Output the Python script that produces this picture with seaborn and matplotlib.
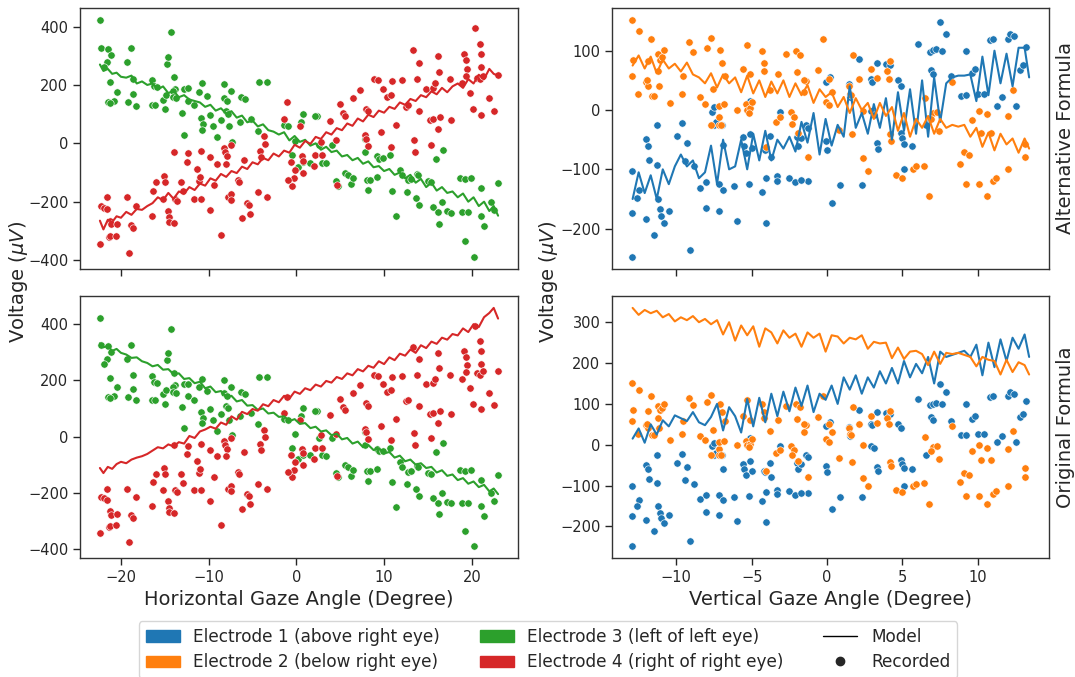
import numpy as np
import pandas as pd
import matplotlib
matplotlib.use("Agg")
import matplotlib.pyplot as plt
from matplotlib.patches import Patch
from matplotlib.lines import Line2D
import seaborn as sns

# ---------------- recorded data ----------------
# Electrode 3 (left of left eye) vs horizontal gaze angle
h_angle_e3 = [-22.35, -22.3, -21.5, -21.1, -21.6, -21.9, -21.2, -20.45, -20.8, -21.5, -21.2, -19.3, -18.9, -18.6,
              -18.6, -19.2, -18.3, -16.5, -16.2, -15.9, -16.5, -16.1, -15.0, -15.2, -14.9, -14.8, -14.6, -14.3,
              -13.9, -13.8, -14.1, -14.1, -13.7, -13.0, -12.8, -12.8, -12.4, -12.3, -11.7, -11.1, -10.8, -10.9,
              -10.7, -10.8, -10.15, -9.85, -9.5, -9.1, -8.6, -8.3, -7.9, -8.2, -7.5, -8.0, -7.8, -7.3, -7.7, -6.4,
              -6.3, -5.9, -5.2, -4.3, -3.4, -4.4,
              -1.4, -1.0, 0.76, 0.5, 2.35, 2.1, -0.1, 0.2, 0.8, -0.5, 1.5, 2.9, 3.4, 2.6, 4.1, 4.5, 4.8, 5.6, 5.9,
              6.2, 6.5, 7.8, 7.8, 8.1, 8.4, 8.2, 9.2, 9.4, 9.2, 9.9, 10.7, 10.9, 11.4, 11.8, 12.1, 12.6, 12.7, 13.1,
              13.6, 13.7, 13.9, 14.0, 15.0, 15.4, 15.6, 15.9, 16.2, 16.3, 16.7, 16.6, 17.2, 17.6, 18.6, 19.2, 19.9,
              18.9, 19.6, 19.2, 20.3, 21.0, 21.1, 21.4, 22.2, 22.5, 23.0]
volt_e3 = [423, 326, 322, 302, 277, 260, 209, 176, 146, 140, 138, 277, 326, 220,
           169, 140, 129, 216, 195, 192, 131, 131, 117, 150, 165, 271, 296, 382,
           226, 185, 178, 160, 156, 104, 29, 186, 188, 146, 131, 176, 206, 86,
           66, 47, 161, 97, 58, 20, 81, 155, 145, 203, 178, 110, 100, 5, 60, 72,
           158, 152, 83, 211, 211, 43,
           62, 60, 100, 72, 92, 92, 9, -81, -64, -40, -67, -66, -68, -6, -6, -128, -145, -100, -108,
           -139, -120, 15, -30, -124, -124, -159, -44, -53, -115, -50, -40, -162, -250, -92, -110, -168, -126, -122,
           -187, -105, -110, -213, -128, -133, -219, -54, -235, -276, -22, -202, -232, -238, -118, -122, -118,
           -235, -235, -336, -390, -154, -248, -284, -200, -230, -136]

# Electrode 4 (right of right eye) vs horizontal gaze angle
h_angle_e4 = [-22.35, -22.3, -21.9, -21.6, -21.6, -21.3, -21.1, -21.4, -21.2, -20.6, -20.4, -19.3, -19.1, -18.8,
              -18.6, -18.3, -16.5, -16.4, -16.0, -15.1, -15.0, -15.2, -14.6, -14.5, -14.5, -13.9, -13.9, -13.8,
              -13.6, -13.2, -12.9, -12.5, -12.4, -11.7, -11.3, -11.1, -11.0, -10.9, -10.9, -9.85, -9.8, -9.4, -9.1,
              -8.6, -8.3, -8.1, -7.9, -8.0, -7.8, -7.5, -7.4, -7.5, -6.6, -6.5, -6.2, -6.0, -5.6, -5.4, -5.3, -4.4,
              -4.1, -4.0, -3.7, -3.6, -3.4, -1.1, -1.4, -0.6, -0.5, -0.2, -0.3, -0.9, 0.6, 0.7, 0.45, 0.7, 2.0, 2.1,
              2.8, 2.9, 3.8, 4.5, 4.6, 5.0, 5.3, 5.6, 6.4, 7.3, 7.9, 8.2, 7.8, 7.9, 8.2, 8.8, 9.3, 9.7, 9.9, 10.3,
              10.8, 10.8, 10.9, 11.4, 12.0, 12.5, 12.7, 13.3, 13.4, 13.5, 13.7, 14.0, 14.0, 14.8, 15.3, 15.2, 15.6,
              15.6, 15.8, 16.1, 16.3, 16.4, 16.2, 17.5, 17.6, 18.9, 19.1, 19.3, 19.5, 19.3, 19.8, 20.1, 20.4, 20.9,
              21.0, 21.1, 21.0, 20.6, 20.9, 21.3, 22.0, 22.5, 23.0]
volt_e4 = [-344, -215, -220, -225, -185, -265, -278, -321, -318, -316, -276, -185, -375, -280,
           -290, -215, -248, -163, -134, -111, -134, -190, -231, -254, -270, -272, -29, -190,
           -196, -134, -165, -63, -33, -190, -88, -128, -115, -190, -25, -230, -48, -143, -71,
           -314, -15, -30, -45, -70, -185, -175, -195, -6, -125, -134, -257, -56, -204, -212, -241, -168,
           -25, -48, 24, -3, -185, 140, 83, -65, -145, -90, -120, -125, -43, -60, 60, -100, -79, -40,
           6, -40, 77, 10, -142, 134, 105, 95, 156, 183, 118, 110, 27, 15, -8, 219, 217, 38, 186, 160,
           165, -14, 212, 63, 217, 125, 130, 320, 11, -30, 220, 275, 110, 186, -6, 80, 85,
           190, 205, 298, 245, 90, 50, 220, 80, 205, 305, 285, 255, 230, 174, 117, 395, 340,
           305, 260, 97, 225, 220, 232, 154, 112, 234]

# Electrode 1 (above right eye) vs vertical gaze angle
v_angle_e1 = [-12.94, -12.94, -12.94, -12.5, -12.6, -12.0, -12.0, -11.9, -11.8, -11.5, -11.3, -11.3, -11.2, -11.1,
              -11.0, -10.8, -10.5, -9.93, -9.6, -9.3, -9.1, -9.4, -8.8, -8.4, -8.0, -8.0, -7.63, -7.5, -7.5, -7.35,
              -7.2, -7.2, -6.9, -7.0, -6.9, -6.2, -6.0, -5.6, -5.5, -5.4, -5.2, -5.1, -5.0, -5.1, -4.3, -4.2, -4.1,
              -4.06, -4.05, -3.8, -3.7, -3.35, -3.3, -3.1, -2.5, -2.1, -2.0, -1.95, -1.4, -1.28, -1.3, -1.7, -1.7,
              -0.1, 0.2, -0.1, 0.0, 0.33, 0.86, 1.45, 1.5, 2.1, 2.3, 2.9, 3.0, 2.9, 3.1, 3.3, 3.4, 3.33, 3.9, 4.2,
              4.7, 4.9, 4.9, 5.0, 5.1, 5.6, 5.1, 6.0, 6.55, 6.8, 7.0, 7.2, 6.9, 7.0, 7.5, 7.9, 7.6, 8.2, 8.9, 9.2,
              9.2, 9.6, 9.8, 10.0, 10.4, 10.8, 11.0, 11.3, 11.6, 12.0, 12.1, 12.4, 12.5, 12.8, 13.0, 13.2]
volt_e1 = [-248, -102, -174, -134, -149, -184, -49, -60, -85, -211, -26, -93, -150, -167,
           -179, -191, -171, -44, -22, -55, -236, -86, -95, -132, -165, -122, -4, 5, -25, -20,
           -171, -124, -135, -26, -59, -128, -187, -46, -60, -73, -125, -40, -64, 16, -138, -65, -67,
           -190, -115, -44, -80, -111, -120, -4, -114, -122, -45, -60, -25, -119, -30, -48, -118,
           47, 55, -53, -67, -157, -127, 44, 22, 86, -127, 52, 48, -2, -8, -55, -65, 79, 77, 76,
           50, 40, -38, -48, -57, -60, -100, 112, -26, 98, 101, 103, 68, 60, 148, 128, 100, 58, 23, 25,
           100, 62, 70, 27, 27, 118, 120, 6, 22, 120, 128, 125, 7, 68, 76, 106]

# Electrode 2 (below right eye) vs vertical gaze angle
v_angle_e2 = [-12.94, -12.95, -12.9, -12.5, -12.57, -12.0, -11.9, -11.9, -11.95, -11.7, -11.6, -11.5, -11.2, -11.1,
              -10.95, -11.2, -11.15, -10.8, -10.45, -9.6, -9.55, -9.15, -8.9, -8.45, -8.1, -7.96, -7.7, -7.7, -7.6,
              -7.2, -7.2, -7.15, -7.05, -7.1, -7.0, -6.8, -6.85, -6.0, -5.6, -5.4, -5.3, -5.1, -5.33, -5.2, -5.1,
              -5.0, -4.3, -4.2, -4.2, -4.06, -3.8, -3.25, -3.36, -3.1, -2.7, -2.4, -2.2, -2.3, -2.05, -1.8, -2.0,
              -1.95, -1.4, -1.3, -1.5, -1.55, -0.6, -0.24, -0.1, 0.1, 0.1, 0.33, 0.81, 1.45, 1.5, 1.6, 1.64, 1.73,
              2.1, 2.35, 2.4, 2.74, 2.9, 3.3, 4.0, 4.1, 4.2, 4.2, 4.25, 4.6, 5.0, 5.7, 5.9, 6.4, 6.5, 6.73, 7.0,
              7.3, 6.9, 7.4, 8.3, 8.8, 9.1, 9.4, 9.18, 9.6, 10.1, 10.1, 10.2, 10.6, 10.6, 10.9, 11.0, 11.2, 12.0,
              12.0, 12.3, 13.1, 13.15]
volt_e2 = [152, 57, 85, 133, 27, 48, 40, 82, 50, 120, 24, 24, 95, 85,
           90, 65, 40, 101, 12, 27, 57, 115, 98, 22, 11, 105, 121, -26, 35,
           -11, 6, -26, -26, 101, 79, 57, 10, 0, 70, 10, 0, 3, 110, -5, 60,
           14, 99, 79, 66, -63, 33, 61, -20, -12, 94, -4, -12, -24, 100, 92, 64,
           -39, 49, -80, 50, 31, 68, 119, 14, 8, 52, 31, -33, 40, 27, 25, -41, 93,
           52, -81, -1, -102, 70, 54, 66, 52, 82, -41, -52, -110, -115, -100, -95, -94, 20, -145, -5,
           -3, -15, -35, 47, -91, -70, -75, -125, -16, -1, -125, -38, -145, -7, -38, -120, -114, -10,
           -100, 34, -80, -57]

# ---------------- model curves ----------------
h_model = [-22.4, -22.0, -21.5, -21.0, -20.5, -20.0, -19.4, -18.8, -18.2, -17.6, -17.0, -16.4, -15.8, -15.2,
           -14.6, -14.0, -13.4, -12.8, -12.2, -11.6, -11.0, -10.4, -9.8, -9.2, -8.6, -8.0, -7.4, -6.8, -6.2,
           -5.6, -5.0, -4.4, -3.8, -3.2, -2.6, -2.0, -1.4, -0.8, -0.2, 0.4, 1.0, 1.6, 2.2, 2.8, 3.4, 4.0, 4.6,
           5.2, 5.8, 6.4, 7.0, 7.6, 8.2, 8.8, 9.4, 10.0, 10.6, 11.2, 11.8, 12.4, 13.0, 13.6, 14.2, 14.8, 15.4,
           16.0, 16.6, 17.2, 17.8, 18.4, 19.0, 19.6, 20.2, 20.8, 21.4, 22.0, 22.5, 23.0]
e3_alt = [270, 248, 255, 238, 242, 228, 225, 232, 205, 212, 200, 205, 185, 195,
          172, 180, 158, 165, 150, 145, 140, 125, 132, 112, 120, 102, 110, 88, 95,
          72, 78, 58, 65, 45, 40, 30, 38, 10, 25, 5, 12, -8, 0, -22, -12, -30, -25,
          -45, -40, -58, -50, -70, -62, -82, -78, -95, -88, -108, -100, -120, -108, -135, -122, -150, -135,
          -162, -150, -170, -165, -185, -172, -200, -185, -215, -200, -232, -215, -248]
e4_alt = [-265, -295, -262, -270, -250, -255, -235, -245, -225, -228, -215, -205, -185, -195,
          -170, -190, -165, -172, -150, -160, -138, -145, -120, -128, -105, -115, -95, -102, -80,
          -88, -65, -72, -50, -58, -35, -45, -25, -32, -5, -15, 8, -2, 22, 15, 38, 30, 52,
          45, 68, 60, 85, 75, 98, 90, 112, 105, 125, 118, 140, 132, 152, 145, 165, 158, 178,
          168, 190, 175, 195, 205, 190, 220, 205, 235, 220, 255, 238, 232]
e3_orig = [332, 318, 322, 305, 312, 298, 292, 280, 282, 268, 262, 250, 255, 238,
           240, 222, 225, 205, 208, 190, 195, 172, 178, 158, 162, 140, 145, 125, 130,
           110, 112, 95, 100, 82, 85, 70, 72, 55, 62, 45, 48, 30, 35, 18, 22, 5, 10,
           -10, -5, -25, -18, -38, -30, -48, -42, -60, -55, -75, -68, -88, -82, -100, -95, -112, -108,
           -128, -120, -140, -135, -155, -148, -168, -160, -180, -172, -195, -185, -205]
e4_orig = [-112, -130, -108, -115, -98, -90, -95, -82, -75, -70, -62, -50, -38, -42,
           -28, -35, -20, -25, 2, -5, 18, 25, 35, 28, 50, 42, 72, 60, 88,
           80, 98, 92, 115, 108, 130, 122, 145, 135, 160, 152, 172, 165, 185, 178, 198, 192, 212,
           205, 225, 218, 240, 232, 252, 245, 268, 258, 282, 272, 295, 288, 310, 298, 325, 315, 338,
           330, 352, 345, 365, 360, 385, 372, 400, 390, 425, 440, 458, 420]

v_model = [-12.9, -12.5, -12.1, -11.7, -11.3, -10.9, -10.5, -10.1, -9.7, -9.3, -8.9, -8.5, -8.1, -7.7, -7.3,
           -6.9, -6.5, -6.1, -5.7, -5.3, -4.9, -4.5, -4.1, -3.7, -3.3, -2.9, -2.5, -2.1, -1.7, -1.3, -0.9, -0.5,
           -0.1, 0.3, 0.7, 1.1, 1.5, 1.9, 2.3, 2.7, 3.1, 3.5, 3.9, 4.3, 4.7, 5.1, 5.5, 5.9, 6.3, 6.7, 7.1, 7.5,
           7.9, 8.3, 8.7, 9.1, 9.5, 9.9, 10.3, 10.7, 11.1, 11.5, 11.9, 12.3, 12.7, 13.1, 13.4]
e1_alt = [-150, -105, -140, -110, -150, -100, -125, -95, -75, -95, -85, -115, -105, -60, -125,
          -50, -100, -95, -50, -100, -40, -85, -35, -85, -50, -65, -45, -70, -20, -55, -5, -75,
          -15, -60, -25, -45, 40, -30, -5, -40, 10, -30, 20, -50, 30, -35, 35, -40, 50, -45, 55, -20,
          45, 55, 58, 58, 60, 15, 90, 25, 100, 45, 95, 40, 105, 105, 55]
e2_alt = [75, 92, 70, 90, 62, 85, 70, 78, 65, 80, 60, 55, 45, 62, 38,
          60, 45, 55, 30, 58, 28, 50, 22, 48, 28, 50, 22, 45, 25, 42, 12, 35,
          22, 30, 5, 22, -5, 20, 0, 12, -15, 12, -10, 5, -35, -5, -45, -15, -30, -10, -40, -15,
          -30, -25, -28, -25, -45, -30, -62, -38, -68, -40, -58, -48, -72, -48, -65]
e1_orig = [15, 40, 5, 50, 25, 60, 45, 72, 65, 58, 80, 55, 48, 68, 100,
           35, 92, 70, 30, 112, 45, 115, 55, 125, 70, 130, 82, 140, 95, 145, 80, 125,
           110, 145, 100, 165, 135, 170, 125, 165, 140, 180, 150, 188, 150, 205, 165, 198, 175, 215, 150, 228,
           215, 220, 225, 230, 215, 245, 170, 250, 190, 258, 205, 262, 235, 270, 215]
e2_orig = [335, 318, 330, 322, 328, 312, 320, 302, 312, 305, 315, 300, 308, 295, 305,
           270, 300, 255, 292, 268, 290, 240, 285, 275, 248, 280, 262, 272, 240, 275, 262, 272,
           228, 268, 265, 248, 262, 258, 268, 235, 252, 248, 250, 212, 238, 210, 228, 230, 222, 195, 228, 198,
           225, 222, 225, 220, 215, 192, 215, 208, 205, 172, 208, 178, 202, 195, 172]

electrode_labels = ["Electrode 1 (above right eye)", "Electrode 2 (below right eye)",
                    "Electrode 3 (left of left eye)", "Electrode 4 (right of right eye)"]
row_labels = ["Alternative Formula", "Original Formula"]
x_labels = ["Horizontal Gaze Angle (Degree)", "Vertical Gaze Angle (Degree)"]
y_label = r"Voltage ($\mu V$)"

# ---------------- styling ----------------
sns.set_theme(style="ticks")
plt.rcParams["font.family"] = ["DejaVu Sans"]
TXT = "#262626"
plt.rcParams.update({
    "axes.edgecolor": "#333333",
    "axes.linewidth": 1.0,
    "xtick.color": TXT, "ytick.color": TXT,
    "xtick.labelcolor": TXT, "ytick.labelcolor": TXT,
    "xtick.major.size": 4.8, "ytick.major.size": 4.8,
    "xtick.major.width": 1.0, "ytick.major.width": 1.0,
    "xtick.labelsize": 10.5, "ytick.labelsize": 10.5,
    "text.color": TXT, "axes.labelcolor": TXT,
})
pal = sns.color_palette("tab10")
c1, c2, c3, c4 = pal[0], pal[1], pal[2], pal[3]

fig = plt.figure(figsize=(10.75, 6.77), dpi=100)
W, H = 1075, 677
def pos(l, r, t, b):
    return [l / W, 1 - b / H, (r - l) / W, (b - t) / H]

ax_tl = fig.add_axes(pos(80, 518, 8, 269))
ax_tr = fig.add_axes(pos(612, 1049, 8, 269))
ax_bl = fig.add_axes(pos(80, 518, 296, 558))
ax_br = fig.add_axes(pos(612, 1049, 296, 558))

rec3 = pd.DataFrame({"x": h_angle_e3, "y": volt_e3})
rec4 = pd.DataFrame({"x": h_angle_e4, "y": volt_e4})
rec1 = pd.DataFrame({"x": v_angle_e1, "y": volt_e1})
rec2 = pd.DataFrame({"x": v_angle_e2, "y": volt_e2})
mh = pd.DataFrame({"x": h_model, "e3a": e3_alt, "e4a": e4_alt, "e3o": e3_orig, "e4o": e4_orig})
mv = pd.DataFrame({"x": v_model, "e1a": e1_alt, "e2a": e2_alt, "e1o": e1_orig, "e2o": e2_orig})

LW = 1.5
S = 28
for ax, suffix in [(ax_tl, "a"), (ax_bl, "o")]:
    sns.scatterplot(data=rec3, x="x", y="y", color=c3, s=S, ax=ax, zorder=2)
    sns.scatterplot(data=rec4, x="x", y="y", color=c4, s=S, ax=ax, zorder=2)
    sns.lineplot(data=mh, x="x", y="e3" + suffix, color=c3, lw=LW, estimator=None, ax=ax, zorder=3)
    sns.lineplot(data=mh, x="x", y="e4" + suffix, color=c4, lw=LW, estimator=None, ax=ax, zorder=3)
    ax.set_xticks([-20, -10, 0, 10, 20])
    ax.set_yticks([-400, -200, 0, 200, 400])

for ax, suffix in [(ax_tr, "a"), (ax_br, "o")]:
    sns.scatterplot(data=rec1, x="x", y="y", color=c1, s=S, ax=ax, zorder=2)
    sns.scatterplot(data=rec2, x="x", y="y", color=c2, s=S, ax=ax, zorder=2)
    sns.lineplot(data=mv, x="x", y="e1" + suffix, color=c1, lw=LW, estimator=None, ax=ax, zorder=3)
    sns.lineplot(data=mv, x="x", y="e2" + suffix, color=c2, lw=LW, estimator=None, ax=ax, zorder=3)
    ax.set_xticks([-10, -5, 0, 5, 10])
ax_tr.set_yticks([-200, -100, 0, 100])
ax_br.set_yticks([-200, -100, 0, 100, 200, 300])

for ax in [ax_tl, ax_tr, ax_bl, ax_br]:
    ax.set_ylabel("")
    ax.set_xlabel("")
for ax in [ax_tl, ax_tr]:
    ax.tick_params(labelbottom=False)

ax_bl.set_xlabel(x_labels[0], fontsize=14, labelpad=4)
ax_br.set_xlabel(x_labels[1], fontsize=14, labelpad=4)

fig.text(19 / W, 1 - 282 / H, y_label, rotation=90, ha="center", va="center", fontsize=14)
fig.text(549 / W, 1 - 282 / H, y_label, rotation=90, ha="center", va="center", fontsize=14)

for ax, lab in [(ax_tr, row_labels[0]), (ax_br, row_labels[1])]:
    ax.text(1.015, 0.5, lab, transform=ax.transAxes, rotation=90, ha="left", va="center", fontsize=14)

handles = [Patch(color=c1, label=electrode_labels[0]), Patch(color=c2, label=electrode_labels[1]),
           Patch(color=c3, label=electrode_labels[2]), Patch(color=c4, label=electrode_labels[3]),
           Line2D([], [], color="black", lw=1.0, label="Model"),
           Line2D([], [], color="#262626", marker="o", linestyle="", markersize=6, label="Recorded")]
fig.legend(handles=handles, loc="upper center", bbox_to_anchor=(548 / W, 1 - 613 / H), ncol=3,
           fontsize=12.2, frameon=True, handlelength=2.0, columnspacing=2.35, labelspacing=0.42,
           borderpad=0.4)

fig.savefig("out.png", dpi=100)
